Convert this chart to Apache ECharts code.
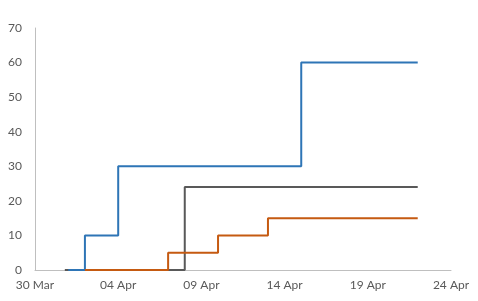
<!DOCTYPE html>
<html>
<head>
<meta charset="utf-8">
<script src="https://cdn.jsdelivr.net/npm/echarts@6/dist/echarts.min.js"></script>
<style>html,body{margin:0;padding:0;background:#fff;}#c{width:478px;height:301px;}</style>
</head>
<body>
<div id="c"></div>
<script>
// Data
var axisStart = '2020-03-30';
var xTickLabels = ['30 Mar', '04 Apr', '09 Apr', '14 Apr', '19 Apr', '24 Apr'];
var yTicks = [0, 10, 20, 30, 40, 50, 60, 70];

var blueDates = ['2020-04-01', '2020-04-02', '2020-04-04', '2020-04-15', '2020-04-22'];
var blueValues = [0, 10, 30, 60, 60];

var orangeDates = ['2020-04-02', '2020-04-07', '2020-04-10', '2020-04-13', '2020-04-22'];
var orangeValues = [0, 5, 10, 15, 15];

var grayDates = ['2020-03-31T19:00', '2020-04-08', '2020-04-22'];
var grayValues = [0, 24, 24];

var DAY = 86400000;
function dayOffset(s) {
  return (new Date(s + (s.length === 10 ? 'T00:00:00Z' : ':00Z')).getTime() - new Date(axisStart + 'T00:00:00Z').getTime()) / DAY;
}
function pairs(dates, vals) {
  return dates.map(function (d, i) { return [dayOffset(d), vals[i]]; });
}

var chart = echarts.init(document.getElementById('c'), null, { renderer: 'canvas' });
var font = 'Lato, "Liberation Sans", sans-serif';
chart.setOption({
  animation: false,
  grid: { left: 35, right: 27, top: 28, bottom: 31, containLabel: false },
  xAxis: {
    type: 'value', min: 0, max: 25, interval: 5,
    axisLine: { show: true, lineStyle: { color: '#bfbfbf', width: 1 } },
    axisTick: { show: false },
    splitLine: { show: false },
    axisLabel: {
      color: '#595959', fontFamily: font, fontSize: 12, margin: 9,
      formatter: function (v) { return xTickLabels[Math.round(v / 5)]; }
    }
  },
  yAxis: {
    type: 'value', min: yTicks[0], max: yTicks[yTicks.length - 1], interval: 10,
    axisLine: { show: true, lineStyle: { color: '#bfbfbf', width: 1 } },
    axisTick: { show: false },
    splitLine: { show: false },
    axisLabel: { color: '#595959', fontFamily: font, fontSize: 12, margin: 13 }
  },
  series: [
    { type: 'line', step: 'end', data: pairs(grayDates, grayValues), showSymbol: false,
      lineStyle: { color: '#595959', width: 2 }, itemStyle: { color: '#595959' } },
    { type: 'line', step: 'end', data: pairs(blueDates, blueValues), showSymbol: false,
      lineStyle: { color: '#2E75B6', width: 2 }, itemStyle: { color: '#2E75B6' } },
    { type: 'line', step: 'end', data: pairs(orangeDates, orangeValues), showSymbol: false,
      lineStyle: { color: '#C55A11', width: 2 }, itemStyle: { color: '#C55A11' } }
  ]
});
</script>
</body>
</html>
